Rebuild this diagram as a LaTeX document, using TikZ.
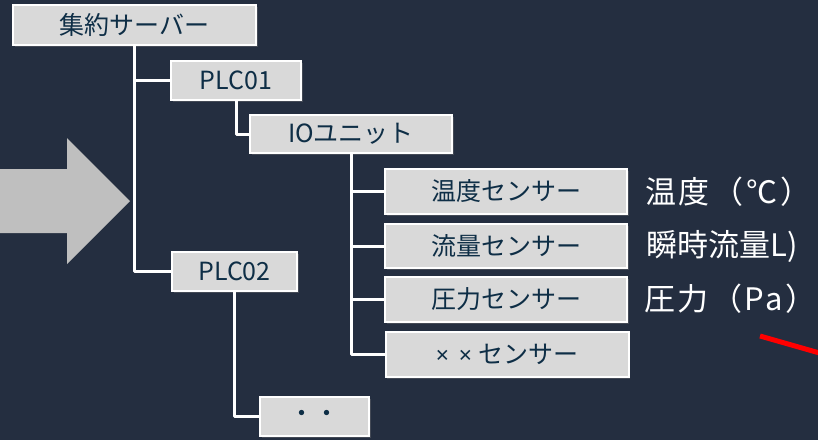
\documentclass[tikz,border=0pt]{standalone}
\usepackage{fontspec}
\setmainfont{Noto Sans CJK JP}
\newfontfamily\latinsym{Noto Sans}
\usetikzlibrary{shadows}
\definecolor{bgnavy}{RGB}{36,46,64}
\definecolor{boxgray}{RGB}{217,217,217}
\definecolor{boxtext}{RGB}{14,46,70}
\definecolor{arrowgray}{RGB}{191,191,191}
\definecolor{redline}{RGB}{255,0,0}
\begin{document}
\begin{tikzpicture}[x=1pt,y=-1pt,
  treebox/.style={draw=white,line width=2pt,fill=boxgray,text=boxtext,inner sep=0pt,
    font=\fontsize{25}{30}\selectfont,
    drop shadow={opacity=0.35,shadow xshift=1.5pt,shadow yshift=-1.5pt}},
  link/.style={draw=white,line width=3pt,line join=round},
  valuelabel/.style={text=white,anchor=west,inner sep=0pt,font=\fontsize{31}{36}\selectfont}]
\useasboundingbox (0,0) rectangle (818,440);
\fill[bgnavy] (0,0) rectangle (818,440);
\begin{scope}
\clip (0,0) rectangle (818,440);
% big arrow
\fill[arrowgray] (-5,169) -- (67,169) -- (67,138) -- (130,201) -- (67,264) -- (67,233) -- (-5,233) -- cycle;
% red line
\draw[redline,line width=5pt] (760,336) -- (830,356);
\end{scope}
% nodes
\node[treebox,minimum width=243pt,minimum height=40pt] (srv) at (134.5,25) {集約サーバー};
\node[treebox,minimum width=130pt,minimum height=39pt] (plc1) at (236,80.5) {PLC01};
\node[treebox,minimum width=202pt,minimum height=38pt] (io) at (351,134) {IOユニット};
\node[treebox,minimum width=242pt,minimum height=45pt] (s1) at (506,191.5) {温度センサー};
\node[treebox,minimum width=242pt,minimum height=44pt] (s2) at (506,246) {流量センサー};
\node[treebox,minimum width=242pt,minimum height=45pt] (s3) at (506,299.5) {圧力センサー};
\node[treebox,minimum width=243pt,minimum height=45pt] (s4) at (507,354.5) {\latinsym\fontsize{23}{26}\selectfont ×\kern 10pt×\kern 6pt\fontspec{Noto Sans CJK JP}\fontsize{25}{30}\selectfont センサー};
\node[treebox,minimum width=125pt,minimum height=39pt] (plc2) at (234.5,271.5) {PLC02};
\node[treebox,minimum width=109pt,minimum height=39pt] (dots) at (314.5,416.5) {・・};
% connectors
\path[link] (srv.south) -- (srv.south |- plc2.west) -- (plc2.west);
\path[link] (srv.south |- plc1.west) -- (plc1.west);
\path[link] (plc1.south) |- (io.west);
\path[link] (io.south) |- (s4.west);
\path[link] (io.south |- s1.west) -- (s1.west);
\path[link] (io.south |- s2.west) -- (s2.west);
\path[link] (io.south |- s3.west) -- (s3.west);
\path[link] (plc2.south) |- (dots.west);
% value labels
\node[valuelabel] (v1) at (645,192) {\addfontfeatures{LetterSpace=9}温度（℃）};
\node[valuelabel] (v2) at (646,246) {瞬時流量L)};
\node[valuelabel] (v3) at (644,299) {\addfontfeatures{LetterSpace=8}圧力（Pa）};
\end{tikzpicture}
\end{document}
